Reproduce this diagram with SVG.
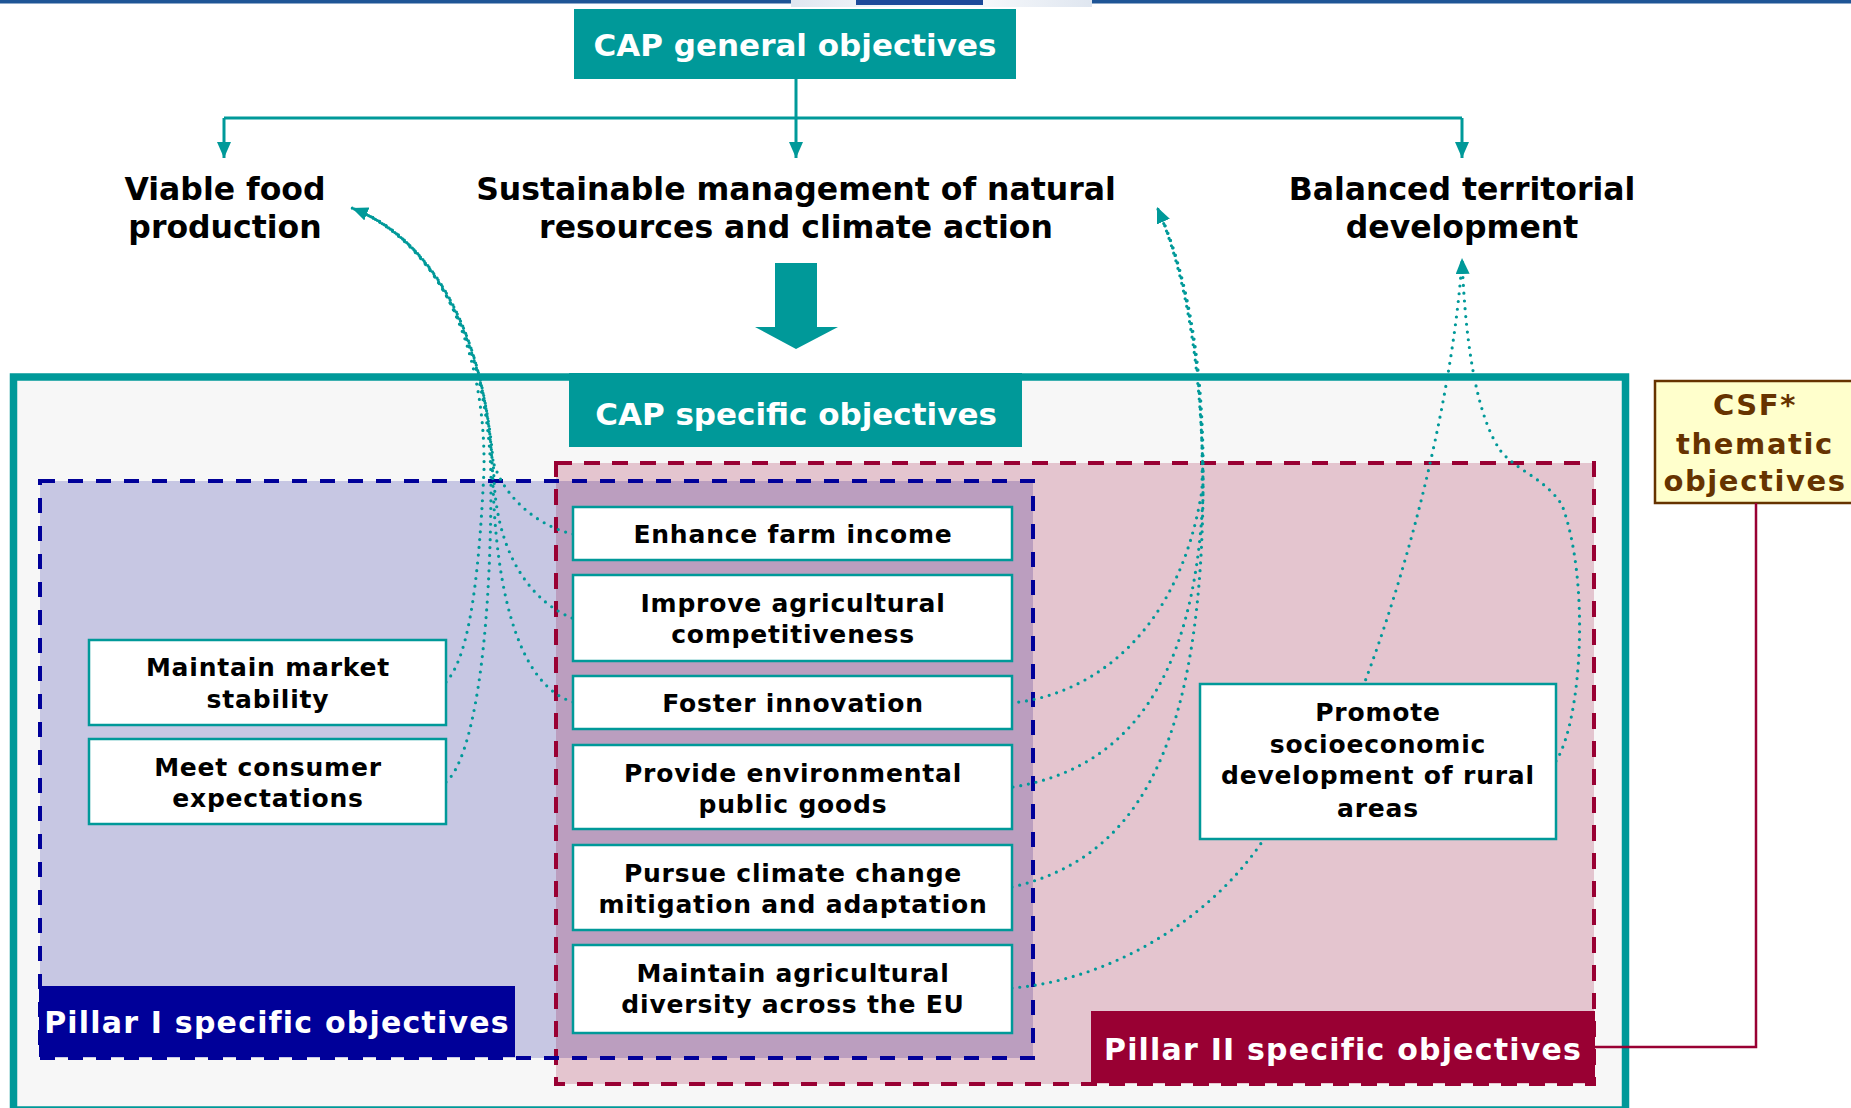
<svg xmlns="http://www.w3.org/2000/svg" width="1851" height="1108" viewBox="0 0 1851 1108">
<style>
.t{font-family:"DejaVu Sans",Verdana,"Liberation Sans",sans-serif;font-weight:bold;text-anchor:middle}
.big{font-size:31.5px;fill:#000}
.hdr{font-size:31px;fill:#fff}
.pl{font-size:30px;fill:#fff;letter-spacing:1.2px}
.bt{font-size:25px;fill:#000;letter-spacing:0.8px}
.csf{font-size:29px;fill:#663300;letter-spacing:1.6px}
.nb{fill:#fff;stroke:#009999;stroke-width:2.5}
.solid{fill:none;stroke:#009999;stroke-width:3}
.dot{fill:none;stroke:#009999;stroke-width:3.2;stroke-dasharray:0 7.8;stroke-linecap:round}
</style>
<defs>
<marker id="ah" viewBox="0 0 16 14" refX="16" refY="7" markerWidth="16" markerHeight="14" markerUnits="userSpaceOnUse" orient="auto"><path d="M0,0 L16,7 L0,14 z" fill="#009999"/></marker>
<linearGradient id="topg" x1="0" x2="1" y1="0" y2="0"><stop offset="0" stop-color="#dfe6f0"/><stop offset="0.5" stop-color="#ffffff"/><stop offset="1" stop-color="#dfe6f0"/></linearGradient>
</defs>
<rect x="0" y="0" width="1851" height="1108" fill="#fff"/>
<!-- top strip -->
<rect x="0" y="0" width="1851" height="3.5" fill="#1f5596"/>
<rect x="791" y="0" width="301" height="7" fill="url(#topg)"/>
<rect x="856" y="0" width="127" height="5" fill="#1d4a9a"/>

<!-- main frame -->
<g id="frame">
<rect x="13.5" y="377" width="1612" height="733" fill="#f7f7f7" stroke="#009999" stroke-width="7.5"/>
</g>

<!-- pillar areas -->
<g id="pillar-areas">
<rect x="40" y="481" width="993" height="577" fill="#c7c7e3"/>
<rect x="556" y="463" width="1038" height="621" fill="#e4c5cf"/>
<rect x="556" y="481" width="477" height="577" fill="#bb9ebf"/>
<rect x="556" y="463" width="1038" height="621" fill="none" stroke="#990033" stroke-width="4" stroke-dasharray="16 12"/>
<rect x="40" y="481" width="993" height="577" fill="none" stroke="#000099" stroke-width="4" stroke-dasharray="15 13"/>
</g>

<g id="cap-general">
<rect x="574" y="9" width="442" height="70" fill="#009999"/>
<text class="t hdr" x="795" y="56">CAP general objectives</text>
</g>

<g id="viable-food">
<text class="t big" x="225" y="200">Viable food</text>
<text class="t big" x="225" y="238">production</text>
</g>
<g id="sustainable">
<text class="t big" x="796" y="200">Sustainable management of natural</text>
<text class="t big" x="796" y="238">resources and climate action</text>
</g>
<g id="balanced">
<text class="t big" x="1462" y="200">Balanced territorial</text>
<text class="t big" x="1462" y="238">development</text>
</g>

<g id="big-arrow">
<polygon points="775,263 817,263 817,327 838,327 796,349 755,327 775,327" fill="#009999"/>
</g>

<g id="cap-specific">
<rect x="569" y="373" width="453" height="74" fill="#009999"/>
<text class="t hdr" x="796" y="425">CAP specific objectives</text>
</g>

<g id="pillar1-label">
<rect x="39" y="986" width="476" height="71" fill="#000099"/>
<text class="t pl" x="277" y="1033">Pillar I specific objectives</text>
</g>
<g id="pillar2-label">
<rect x="1091" y="1011" width="504" height="72" fill="#990033"/>
<text class="t pl" x="1343" y="1060">Pillar II specific objectives</text>
</g>

<g id="csf">
<rect x="1655" y="381" width="200" height="122" fill="#ffffcc" stroke="#663300" stroke-width="2.5"/>
<text class="t csf" x="1755" y="415">CSF*</text>
<text class="t csf" x="1755" y="454">thematic</text>
<text class="t csf" x="1755" y="491">objectives</text>
</g>

<!-- connectors -->
<g id="connectors">
<path class="solid" d="M796,79 V118"/>
<path class="solid" d="M224,118 H1462"/>
<path class="solid" d="M224,118 V158" marker-end="url(#ah)"/>
<path class="solid" d="M796,118 V158" marker-end="url(#ah)"/>
<path class="solid" d="M1462,118 V158" marker-end="url(#ah)"/>
<path d="M1595,1047 H1756 V503" fill="none" stroke="#990033" stroke-width="2.5"/>

<!-- to Viable food -->
<path class="dot" d="M573,534 C548,529 505,505 492,458 C485,350 442,243 352,208"/>
<path class="dot" d="M572,618 C535,603 498,560 494,480 C490,360 440,240 352,208"/>
<path class="dot" d="M573,702 C533,690 498,630 493,485 C490,355 445,245 352,208"/>
<path class="dot" d="M446,682 C466,660 478,600 484,470 C486,345 436,238 352,208"/>
<path class="dot" d="M446,782 C472,760 491,650 491,480 C489,350 438,242 352,208" marker-end="url(#ah)"/>

<!-- to Sustainable management -->
<path class="dot" d="M1011,703 C1095,695 1180,630 1202,490 C1204,380 1190,280 1157,207"/>
<path class="dot" d="M1013,787 C1120,770 1195,690 1203,495 C1205,385 1192,282 1157,207"/>
<path class="dot" d="M1012,887 C1130,860 1200,760 1203,495 C1203,380 1188,278 1157,207" marker-end="url(#ah)"/>

<!-- to Balanced territorial -->
<path class="dot" d="M1012,988 C1110,980 1210,920 1264,839 L1364,684 C1400,590 1450,420 1462,262"/>
<path class="dot" d="M1556,761 C1582,720 1590,580 1562,505 C1545,478 1515,470 1500,450 C1480,420 1466,360 1462,258" marker-end="url(#ah)"/>
</g>

<!-- nodes -->
<g id="enhance-farm-income">
<rect class="nb" x="573" y="507" width="439" height="53"/>
<text class="t bt" x="793" y="543">Enhance farm income</text>
</g>
<g id="improve-competitiveness">
<rect class="nb" x="573" y="575" width="439" height="86"/>
<text class="t bt" x="793" y="612">Improve agricultural</text>
<text class="t bt" x="793" y="643">competitiveness</text>
</g>
<g id="foster-innovation">
<rect class="nb" x="573" y="676" width="439" height="53"/>
<text class="t bt" x="793" y="712">Foster innovation</text>
</g>
<g id="provide-public-goods">
<rect class="nb" x="573" y="745" width="439" height="84"/>
<text class="t bt" x="793" y="782">Provide environmental</text>
<text class="t bt" x="793" y="813">public goods</text>
</g>
<g id="pursue-climate">
<rect class="nb" x="573" y="845" width="439" height="85"/>
<text class="t bt" x="793" y="882">Pursue climate change</text>
<text class="t bt" x="793" y="913">mitigation and adaptation</text>
</g>
<g id="maintain-diversity">
<rect class="nb" x="573" y="945" width="439" height="88"/>
<text class="t bt" x="793" y="982">Maintain agricultural</text>
<text class="t bt" x="793" y="1013">diversity across the EU</text>
</g>
<g id="market-stability">
<rect class="nb" x="89" y="640" width="357" height="85"/>
<text class="t bt" x="268" y="676">Maintain market</text>
<text class="t bt" x="268" y="708">stability</text>
</g>
<g id="consumer-expectations">
<rect class="nb" x="89" y="739" width="357" height="85"/>
<text class="t bt" x="268" y="776">Meet consumer</text>
<text class="t bt" x="268" y="807">expectations</text>
</g>
<g id="rural-development">
<rect class="nb" x="1200" y="684" width="356" height="155"/>
<text class="t bt" x="1378" y="721">Promote</text>
<text class="t bt" x="1378" y="753">socioeconomic</text>
<text class="t bt" x="1378" y="784">development of rural</text>
<text class="t bt" x="1378" y="817">areas</text>
</g>
</svg>
